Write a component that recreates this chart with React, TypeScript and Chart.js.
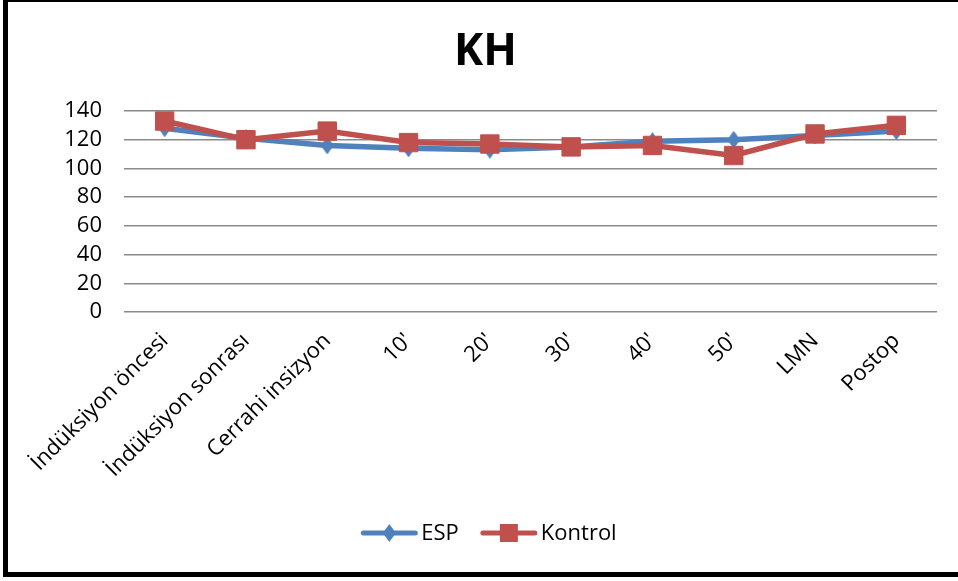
import React, { useEffect, useRef } from "react";
import { Chart, registerables } from "chart.js";

Chart.register(...registerables);

const categories = [
  "İndüksiyon öncesi",
  "İndüksiyon sonrası",
  "Cerrahi insizyon",
  "10'",
  "20'",
  "30'",
  "40'",
  "50'",
  "LMN",
  "Postop",
];
const espValues = [128, 121, 116, 114, 113, 115, 119, 120, 123, 126];
const kontrolValues = [133, 120, 126, 118, 117, 115, 116, 109, 124, 130];
const yTicks = [0, 20, 40, 60, 80, 100, 120, 140];

const BLUE = "#4F81BD";
const RED = "#C0504D";
const FONT = "'Open Sans', 'DejaVu Sans', sans-serif";

// Tall diamond marker used for the ESP series
function makeDiamond(w: number, h: number, color: string): HTMLCanvasElement {
  const c = document.createElement("canvas");
  c.width = w;
  c.height = h;
  const ctx = c.getContext("2d")!;
  ctx.fillStyle = color;
  ctx.beginPath();
  ctx.moveTo(w / 2, 0);
  ctx.lineTo(w, h / 2);
  ctx.lineTo(w / 2, h);
  ctx.lineTo(0, h / 2);
  ctx.closePath();
  ctx.fill();
  return c;
}

// White background and the frame around the chart
const framePlugin = {
  id: "frame",
  beforeDraw(chart: any) {
    const { ctx, width, height } = chart;
    ctx.save();
    ctx.fillStyle = "#ffffff";
    ctx.fillRect(0, 0, width, height);
    ctx.fillStyle = "#000000";
    ctx.fillRect(3, 0, 5, height - 4);
    ctx.fillRect(3, 0, width - 3, 2);
    ctx.fillRect(3, height - 9, width - 3, 5);
    ctx.restore();
  },
};

// Legend with a line segment and marker for each series
const lineLegendPlugin = {
  id: "lineLegend",
  afterDraw(chart: any) {
    const { ctx } = chart;
    const datasets = chart.data.datasets;
    ctx.save();
    ctx.font = `22px ${FONT}`;
    const lineLen = 56;
    const textGap = 4;
    const itemGap = 22;
    const widths = datasets.map(
      (d: any) => lineLen + textGap + ctx.measureText(d.label).width
    );
    const total =
      widths.reduce((a: number, b: number) => a + b, 0) +
      itemGap * (datasets.length - 1);
    let x = chart.width / 2 + 10 - total / 2;
    const y = chart.height - 48;
    datasets.forEach((d: any, i: number) => {
      ctx.strokeStyle = d.borderColor;
      ctx.lineWidth = 5;
      ctx.lineCap = "round";
      ctx.beginPath();
      ctx.moveTo(x + 2, y);
      ctx.lineTo(x + lineLen - 2, y);
      ctx.stroke();
      const cx = x + lineLen / 2;
      ctx.fillStyle = d.borderColor;
      if (d.legendMarker === "diamond") {
        ctx.beginPath();
        ctx.moveTo(cx, y - 9);
        ctx.lineTo(cx + 6.5, y);
        ctx.lineTo(cx, y + 9);
        ctx.lineTo(cx - 6.5, y);
        ctx.closePath();
        ctx.fill();
      } else {
        ctx.fillRect(cx - 9, y - 9, 18, 18);
      }
      ctx.fillStyle = "#000000";
      ctx.textAlign = "left";
      ctx.textBaseline = "middle";
      ctx.fillText(d.label, x + lineLen + textGap, y + 1);
      x += widths[i] + itemGap;
    });
    ctx.restore();
  },
};

export default function App() {
  const canvasRef = useRef<HTMLCanvasElement | null>(null);

  useEffect(() => {
    if (!canvasRef.current) return;
    const diamond = makeDiamond(13, 18, BLUE);
    const chart = new Chart(canvasRef.current, {
      type: "line",
      data: {
        labels: categories,
        datasets: [
          {
            label: "ESP",
            data: espValues,
            borderColor: BLUE,
            backgroundColor: BLUE,
            borderWidth: 5.5,
            pointStyle: diamond as any,
            pointRadius: 9,
            order: 1,
            legendMarker: "diamond",
          } as any,
          {
            label: "Kontrol",
            data: kontrolValues,
            borderColor: RED,
            backgroundColor: RED,
            borderWidth: 5.5,
            pointStyle: "rect",
            pointRadius: 13,
            pointBorderWidth: 1,
            order: 0,
            legendMarker: "square",
          } as any,
        ],
      },
      options: {
        responsive: false,
        animation: false,
        devicePixelRatio: 1,
        layout: { padding: { left: 34, right: 21, top: 0, bottom: 0 } },
        plugins: {
          legend: { display: false },
          tooltip: { enabled: false },
          title: {
            display: true,
            text: "KH",
            color: "#000000",
            font: { family: FONT, size: 44, weight: "bold" },
            padding: { top: 26, bottom: 32.2 },
          },
        },
        scales: {
          x: {
            offset: true,
            grid: { display: false },
            border: { display: false },
            ticks: {
              color: "#000000",
              font: { family: FONT, size: 22 },
              maxRotation: 45,
              minRotation: 45,
              padding: 8,
              autoSkip: false,
            },
            afterFit(axis: any) {
              axis.height = 581 - 312;
            },
          },
          y: {
            min: 0,
            max: 140,
            afterBuildTicks(axis: any) {
              axis.ticks = yTicks.map((v) => ({ value: v }));
            },
            grid: {
              color: "#8a8a8a",
              lineWidth: 1.5,
              drawTicks: false,
            },
            border: { display: false },
            ticks: {
              color: "#000000",
              font: { family: FONT, size: 22 },
              padding: 22,
              autoSkip: false,
            },
            afterFit(axis: any) {
              axis.width = 90;
            },
          },
        },
      },
      plugins: [framePlugin, lineLegendPlugin],
    });
    return () => chart.destroy();
  }, []);

  return (
    <div style={{ position: "fixed", left: 0, top: 0, width: 958, height: 581 }}>
      <canvas ref={canvasRef} width={958} height={581} />
    </div>
  );
}
